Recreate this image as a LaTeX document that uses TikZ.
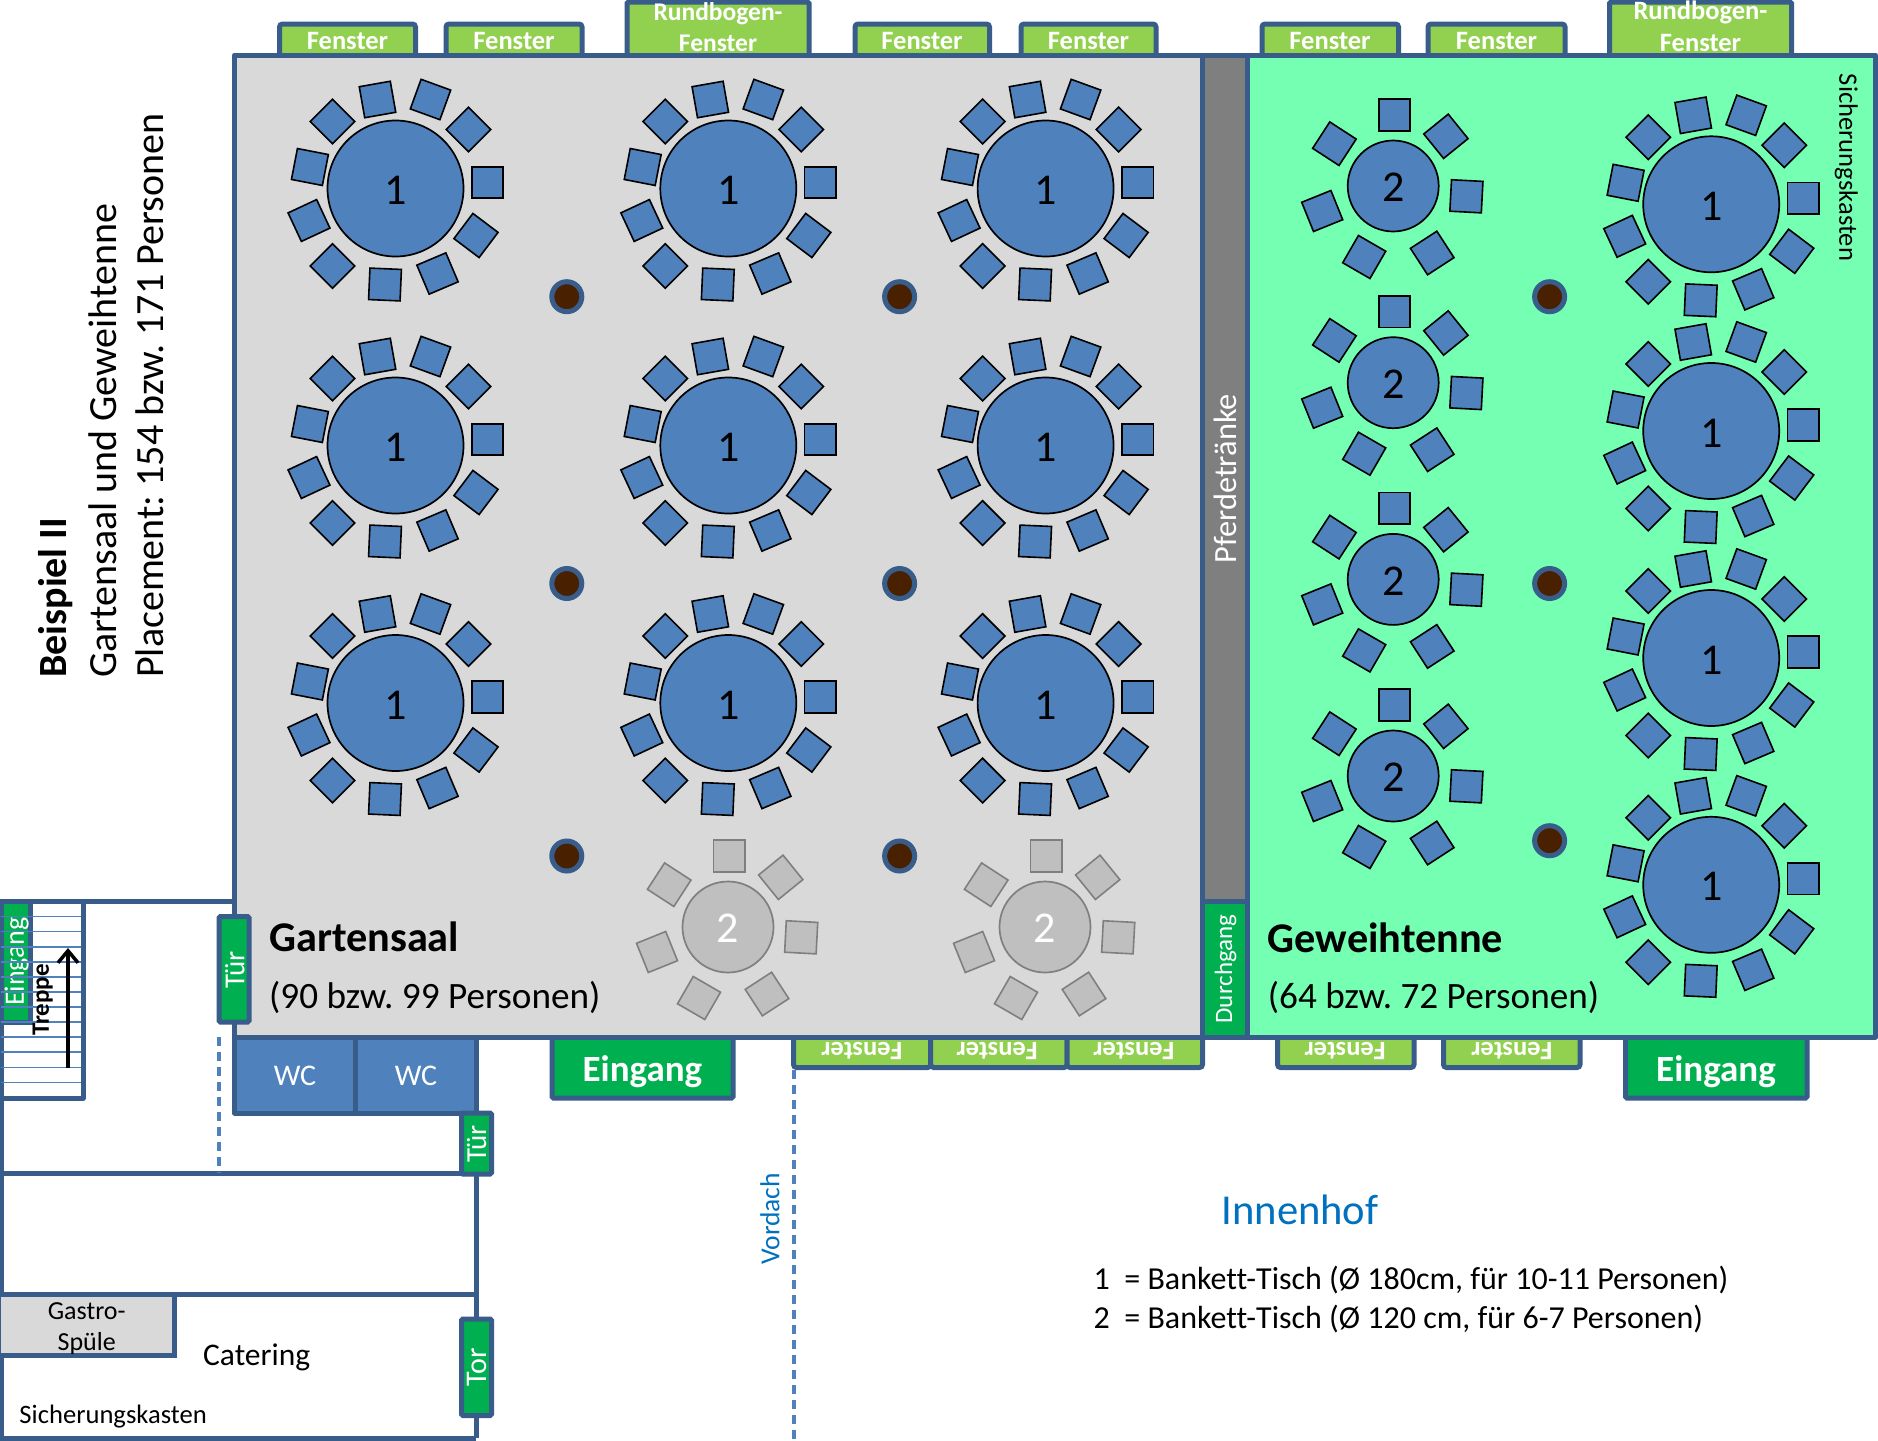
\documentclass[tikz,border=0pt]{standalone}
\usepackage{fontspec}
\setmainfont{Carlito}[Ligatures={NoCommon}]
\frenchspacing
\usetikzlibrary{arrows.meta}
\definecolor{wall}{HTML}{385D8A}
\definecolor{tblue}{HTML}{4F81BD}
\definecolor{hall}{HTML}{D9D9D9}
\definecolor{tenne}{HTML}{74FFB2}
\definecolor{winG}{HTML}{92D050}
\definecolor{doorG}{HTML}{00B050}
\definecolor{barG}{HTML}{7F7F7F}
\definecolor{pillarB}{HTML}{4A2100}
\definecolor{ghostF}{HTML}{BFBFBF}
\definecolor{hofB}{HTML}{0070C0}
\tikzset{
  lbl/.style={inner sep=0pt,font=\fontsize{#1}{#1}\selectfont},
  blbl/.style={inner sep=0pt,font=\fontsize{#1}{#1}\selectfont\bfseries},
  wl/.style={draw=wall,line width=5pt},
  win/.style={draw=wall,line width=5pt,fill=winG,rounded corners=3pt},
  door/.style={draw=wall,line width=5pt,fill=doorG,rounded corners=1.5pt},
  room/.style={draw=wall,line width=5pt,line join=round},
  wclbl/.style={lbl=30,text=white},
  seat/.style={rectangle,draw=#1,line width=1.6pt,inner sep=0pt,minimum size=31.5pt},
  realtable/.style={circle,draw=black,line width=1.7pt,fill=tblue,text=black,inner sep=0pt,minimum size=#1},
  ghosttable/.style={circle,draw=barG,line width=1.7pt,fill=ghostF,text=white,inner sep=0pt,minimum size=#1},
  pillar/.style={circle,draw=wall,line width=5pt,fill=pillarB,inner sep=0pt,minimum size=30pt},
}
% name, x, y
\newcommand\bigtable[3]{%
 \begin{scope}[shift={(#2,#3)}]
  \node[realtable=136pt] (#1) at (0,0) {};
  \node[lbl=44,text=black] (#1t) at (0,2) {1};
  \foreach \dx/\dy/\r [count=\i] in {92/-6/0,73/-59/45,35/-89/-20,-18/-89/10,-63/-67/45,-85.6/-21.5/-11,-86.5/32/25,-63/77.5/45,-10.5/96/-2.5,42/85/23,80.5/47/-37}
   \node[seat=black,fill=tblue,rotate=\r] (#1s\i) at (\dx,\dy) {};
 \end{scope}}
% name, x, y, table style, label colour, seat line
\newcommand\smalltable[6]{%
 \begin{scope}[shift={(#2,#3)}]
  \node[#4=91pt] (#1) at (0,0) {};
  \node[lbl=44,text=#5] (#1t) at (0,1.5) {2};
  \foreach \dx/\dy/\r [count=\i] in {1.3/-71/0,52.7/-49.7/39,73.2/10.3/-3,39/67/33,-29/71/-30,-71/25/22,-58.8/-42.3/-33}
   \node[seat=#6,fill=#4color,rotate=\r] (#1s\i) at (\dx,\dy) {};
 \end{scope}}
\colorlet{realtablecolor}{tblue}
\colorlet{ghosttablecolor}{ghostF}
\begin{document}
\begin{tikzpicture}[x=1pt,y=-1pt]
\useasboundingbox (0,0) rectangle (1878,1440);
\fill[white] (0,0) rectangle (1878,1440);

% windows on top side
\draw[win] (279.5,24) rectangle (415.5,62);
\draw[win] (446,24) rectangle (582,62);
\draw[win,rounded corners=1.5pt] (627,2) rectangle (809,62);
\draw[win] (855,24) rectangle (989.5,62);
\draw[win] (1021,24) rectangle (1156,62);
\draw[win] (1262,24) rectangle (1398.5,62);
\draw[win] (1428,24) rectangle (1565,62);
\draw[win,rounded corners=1.5pt] (1609.5,2) rectangle (1791.5,62);
% windows on bottom side
\draw[win] (793.5,1030) rectangle (930.7,1067.5);
\draw[win] (930.7,1030) rectangle (1067,1067.5);
\draw[win] (1067,1030) rectangle (1202.5,1067.5);
\draw[win] (1277.5,1030) rectangle (1414,1067.5);
\draw[win] (1443.5,1030) rectangle (1580,1067.5);
% main entrances
\draw[door] (552,1030) rectangle (733,1098);
\draw[door] (1625.5,1030) rectangle (1807,1098);

% rooms
\draw[room,fill=hall] (234.5,55) rectangle (1202,1037);
\draw[room,fill=barG] (1202,55) rectangle (1247.5,901.5);
\draw[room,fill=doorG] (1202,901.5) rectangle (1247.5,1037);
\draw[room,fill=tenne] (1247.5,55) rectangle (1875.5,1037);

% lower-left building
\draw[wl,line join=round] (1,1173.6) -- (1,901) -- (236,901);
\draw[wl] (1,1173.6) -- (476,1173.6);
\draw[wl] (476,1037) -- (476,1438);
\draw[wl] (1,1173.6) -- (1,1438) -- (476,1438);
\draw[wl] (1,1294.3) -- (476,1294.3);
\draw[wl,fill=hall] (1,1294.3) -- (174,1294.3) -- (174,1355) -- (1,1355);
\draw[wl,line join=round] (83,901) -- (83,1098) -- (1,1098);
\draw[wl,fill=doorG] (1,901) rectangle (30.5,1022);
\node[lbl=28,text=white,rotate=90] (eingangstair) at (16.7,961.5) {Eingang};
\foreach \yy in {916.4,931.5,946.6,961.7,976.8,991.9,1007,1022.1,1037.2,1052.3,1067.4,1082.5}
  \draw[tblue,line width=1.8pt] (1,\yy) -- (81,\yy);
\node[blbl=25,text=black,rotate=90] (treppe) at (42.7,1000) {Treppe};
\coordinate (arrowfoot) at (68,1067.5);
\coordinate (arrowhead) at (68,948);
\draw[black,line width=4pt,-{Straight Barb[length=12pt,width=20pt,line width=3.5pt]}] (arrowfoot) -- (arrowhead);

\draw[door] (219,916.5) rectangle (249,1022);
\node[lbl=29,text=white,rotate=90] (tuer1) at (235,970) {Tür};
\draw[room,fill=tblue] (234.5,1037) rectangle (355,1113);
\draw[room,fill=tblue] (355,1037) rectangle (476,1113);
\node[wclbl] (wc1) at (295,1075.7) {WC};
\node[wclbl] (wc2) at (416,1075.7) {WC};
\draw[door] (461.5,1113) rectangle (491.5,1174);
\node[lbl=29,text=white,rotate=90] (tuer2) at (476.7,1144) {Tür};
\draw[door] (461.5,1319) rectangle (491.5,1415.5);
\node[lbl=30,text=white,rotate=90] (tor) at (476.7,1367.5) {Tor};
\draw[tblue,line width=4pt,dash pattern=on 9pt off 6pt] (219,1037) -- (219,1173);
\draw[tblue,line width=3.5pt,dash pattern=on 9pt off 6pt] (794,1070) -- (794,1440);

% tables
\foreach \cx [count=\c] in {395.5,728.3,1045.6}
 \foreach \cy [count=\w] in {188.5,445.5,703}
  \bigtable{tb\c\w}{\cx}{\cy};
\foreach \cy [count=\w] in {204.3,431,658,884.8}
  \bigtable{tr\w}{1711.2}{\cy};
\foreach \cy [count=\w] in {186,382.7,579.4,776}
  \smalltable{sr\w}{1393.2}{\cy}{realtable}{black}{black};
\smalltable{sg1}{728}{927}{ghosttable}{white}{barG}
\smalltable{sg2}{1045}{927}{ghosttable}{white}{barG}

% pillars
\node[pillar] (p1) at (566.8,296.7) {};
\node[pillar] (p2) at (899.6,296.7) {};
\node[pillar] (p3) at (1549.6,296.7) {};
\node[pillar] (p4) at (566.8,583.5) {};
\node[pillar] (p5) at (899.6,583.5) {};
\node[pillar] (p6) at (1549.6,583.5) {};
\node[pillar] (p7) at (566.8,856) {};
\node[pillar] (p8) at (899.6,856) {};
\node[pillar] (p9) at (1549.6,840.7) {};

% window labels
\foreach \xx/\nm in {347.5/fa,514/fb,922/fc,1088.5/fd,1330/fe,1496.5/ff}
  \node[blbl=26.5,text=white] (\nm) at (\xx,40.7) {Fenster};
\node[blbl=25.5,text=white] (rb1) at (718,14) {Rundbogen-};
\node[blbl=25.5,text=white] (rb1b) at (718,43.5) {Fenster};
\node[blbl=26.5,text=white] (rb2) at (1700.5,12) {Rundbogen-};
\node[blbl=26.5,text=white] (rb2b) at (1700.5,43.5) {Fenster};
\foreach \xx/\nm in {861.8/ga,997/gb,1133.8/gc,1345/gd,1511.8/ge}
  \node[blbl=26.5,text=white,rotate=180] (\nm) at (\xx,1051) {Fenster};
\node[blbl=37,text=white] (ein1) at (642.4,1071.7) {Eingang};
\node[blbl=37,text=white] (ein2) at (1716,1071.7) {Eingang};
\node[lbl=25,text=white,rotate=90] (durch) at (1225.6,969) {Durchgang};
\node[lbl=32.4,text=white,rotate=90] (pferd) at (1225,479) {Pferdetränke};
\node[lbl=26.6,text=black,rotate=-90] (sich1) at (1846.4,167.5) {Sicherungskasten};

% room labels
\node[blbl=42.3,text=black,anchor=west] (gs) at (269,937) {Gartensaal};
\node[lbl=37.2,text=black,anchor=west] (gsp) at (269,997) {(90 bzw. 99 Personen)};
\node[blbl=42.3,text=black,anchor=west] (gt) at (1267.7,937.5) {Geweihtenne};
\node[lbl=37.2,text=black,anchor=west] (gtp) at (1267.7,997) {(64 bzw. 72 Personen)};

% title
\node[blbl=40,text=black,rotate=90,anchor=west] (t1) at (56,678) {Beispiel II};
\node[lbl=40,text=black,rotate=90,anchor=west] (t2) at (103,678) {Gartensaal und Geweihtenne};
\node[lbl=40,text=black,rotate=90,anchor=west] (t3) at (150,678) {Placement: 154 bzw. 171 Personen};

% lower-left labels
\node[lbl=26,text=black] (ga1) at (86.7,1311) {Gastro-};
\node[lbl=26,text=black] (ga2) at (86.7,1344) {Spüle};
\node[lbl=31.5,text=black] (cat) at (256.7,1357) {Catering};
\node[lbl=26.6,text=black,anchor=west] (sich2) at (19.3,1416.5) {Sicherungskasten};

% courtyard
\node[lbl=42.6,text=hofB] (hof) at (1300,1209.6) {Innenhof};
\node[lbl=27.5,text=hofB,rotate=90] (vor) at (770,1219) {Vordach};
\node[lbl=32,text=black,anchor=west] (leg1) at (1093.5,1280) {1\ \ = Bankett-Tisch (Ø 180cm, für 10-11 Personen)};
\node[lbl=32,text=black,anchor=west] (leg2) at (1093.5,1319) {2\ \ = Bankett-Tisch (Ø 120 cm, für 6-7 Personen)};
\end{tikzpicture}
\end{document}
